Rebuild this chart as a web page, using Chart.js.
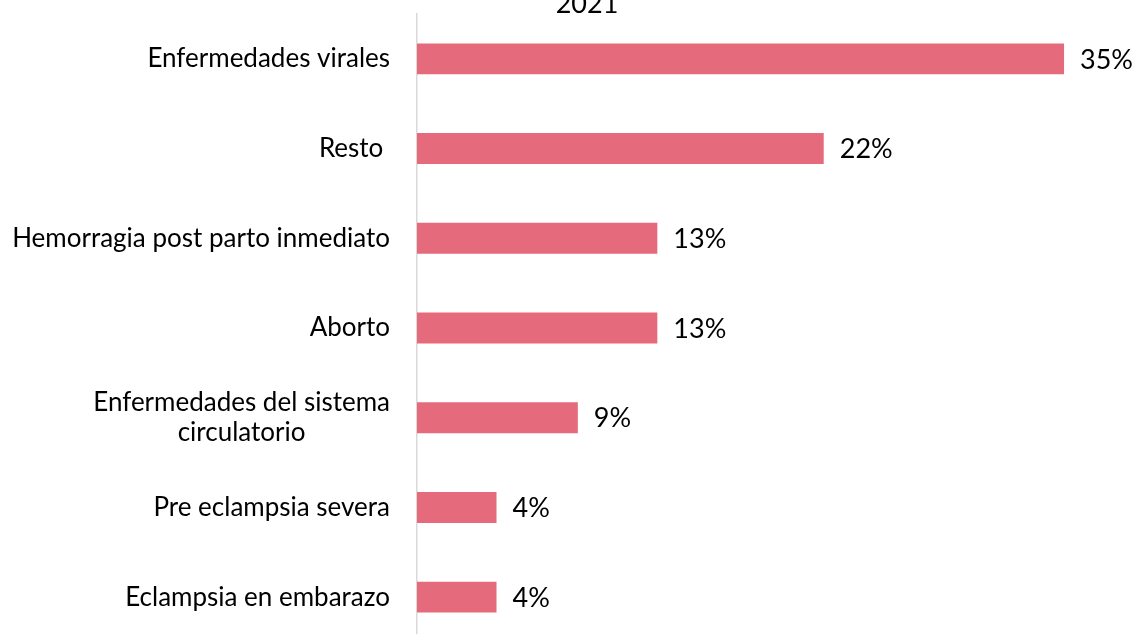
<!DOCTYPE html>
<html>
<head>
<meta charset="utf-8">
<script src="https://cdn.jsdelivr.net/npm/chart.js@4"></script>
<style>
  html, body { margin: 0; padding: 0; background: #fff; overflow: hidden; }
  #wrap { position: relative; width: 1138px; height: 660px; }
</style>
</head>
<body>
<div id="wrap"><canvas id="causas"></canvas></div>
<script>
// causas de muerte materna 2021
const titulo = "2021";
const categorias = [
  "Enfermedades virales",
  "Resto ",
  "Hemorragia post parto inmediato",
  "Aborto",
  ["Enfermedades del sistema", "circulatorio"],
  "Pre eclampsia severa",
  "Eclampsia en embarazo"
];
const porcentajes = [35, 22, 13, 13, 8.7, 4.3, 4.3];
const etiquetas = ["35%", "22%", "13%", "13%", "9%", "4%", "4%"];

const colorBarra = "#E56A7C";
const fuente = "Lato, 'Open Sans', sans-serif";

// dibuja etiquetas de categoria, valores y titulo
const textos = {
  id: "textos",
  afterDraw(chart) {
    const ctx = chart.ctx;
    const area = chart.chartArea;
    const yScale = chart.scales.y;
    const meta = chart.getDatasetMeta(0);
    ctx.save();
    ctx.fillStyle = "#000";

    // categorias (lineas centradas entre si, bloque alineado a la derecha)
    ctx.font = "26px " + fuente;
    ctx.textBaseline = "middle";
    ctx.textAlign = "center";
    const lineH = 30;
    categorias.forEach((cat, i) => {
      const lineas = Array.isArray(cat) ? cat : [cat];
      const maxW = Math.max(...lineas.map(l => ctx.measureText(l).width));
      const cx = area.left - 27 - maxW / 2;
      const yc = yScale.getPixelForValue(i);
      const y0 = yc - (lineas.length - 1) * lineH / 2;
      lineas.forEach((l, j) => ctx.fillText(l, cx, y0 + j * lineH));
    });

    // valores
    ctx.font = "27px " + fuente;
    ctx.textAlign = "left";
    meta.data.forEach((bar, i) => {
      ctx.fillText(etiquetas[i], bar.x + 16, bar.y + 1);
    });

    // titulo (cortado arriba, como en el original)
    ctx.font = "27px " + fuente;
    ctx.textAlign = "center";
    ctx.textBaseline = "alphabetic";
    ctx.fillText(titulo, chart.width / 2 + 18, 13);
    ctx.restore();
  }
};

new Chart(document.getElementById("causas"), {
  type: "bar",
  data: {
    labels: categorias,
    datasets: [{
      data: porcentajes,
      backgroundColor: colorBarra,
      borderWidth: 0,
      barPercentage: 0.345,
      categoryPercentage: 1
    }]
  },
  options: {
    indexAxis: "y",
    responsive: true,
    maintainAspectRatio: false,
    animation: false,
    layout: { padding: { top: 14, bottom: 18, left: 0, right: 0 } },
    plugins: {
      legend: { display: false },
      title: { display: false },
      tooltip: { enabled: false }
    },
    scales: {
      x: {
        display: false,
        min: 0,
        max: 39
      },
      y: {
        grid: { display: false, drawTicks: false },
        border: { display: true, color: "#D9D9D9", width: 1.5 },
        ticks: { display: false },
        afterFit(scale) { scale.width = 417; }
      }
    }
  },
  plugins: [textos]
});
</script>
</body>
</html>
